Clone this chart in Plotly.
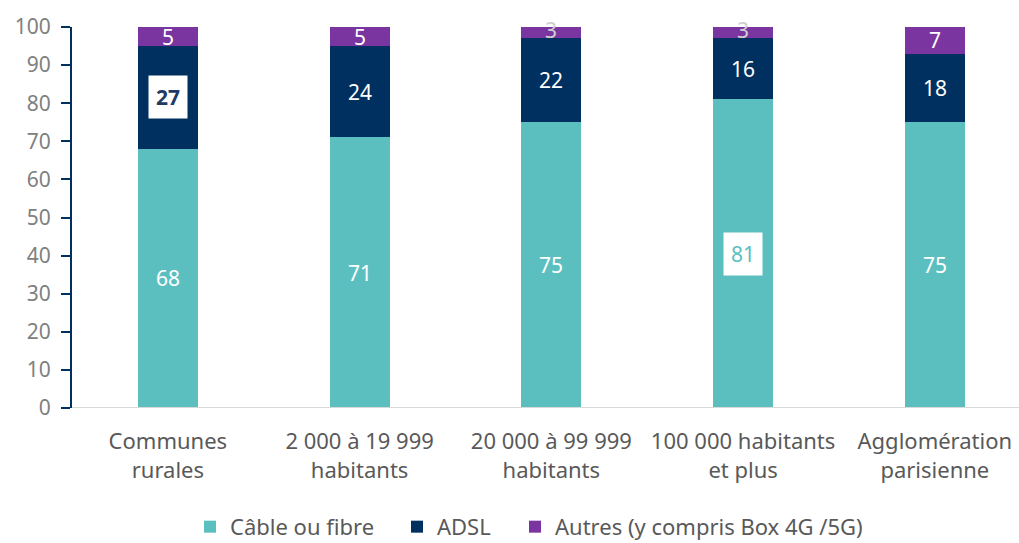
import plotly.graph_objects as go

categories = ["Communes<br>rurales", "2 000 à 19 999<br>habitants", "20 000 à 99 999<br>habitants",
              "100 000 habitants<br>et plus", "Agglomération<br>parisienne"]
cable = [68, 71, 75, 81, 75]
adsl = [27, 24, 22, 16, 18]
autres = [5, 5, 3, 3, 7]
series_names = ["Câble ou fibre", "ADSL", "Autres (y compris Box 4G /5G)"]
y_ticks = [0, 10, 20, 30, 40, 50, 60, 70, 80, 90, 100]

# highlighted labels (drawn in white boxes)
highlight = {("ADSL", 0): "#1f3a63", ("Câble ou fibre", 3): "#5bbfbf"}

TEAL = "#5cbfbf"
NAVY = "#00305f"
PURPLE = "#7a35a0"
FONT = "Noto Sans"
legend_widths = [162, 73, None]

fig = go.Figure()
cum = [0] * len(categories)
annots = []
for name, vals, col, lw in zip(series_names, [cable, adsl, autres], [TEAL, NAVY, PURPLE], legend_widths):
    kw = {}
    if lw:
        kw["legendwidth"] = lw
    fig.add_trace(go.Bar(
        name=name, x=list(range(len(categories))), y=vals, marker=dict(color=col, line=dict(width=0)),
        width=0.313, hoverinfo="y", **kw
    ))
    for i, v in enumerate(vals):
        mid = cum[i] + v / 2
        if (name, i) in highlight:
            annots.append(dict(x=i, y=mid, xref="x", yref="y",
                               text=("<b>%d</b>" % v) if name == "ADSL" else str(v),
                               showarrow=False, bgcolor="white", borderpad=7,
                               font=dict(family=FONT, size=21, color=highlight[(name, i)])))
        else:
            small = name.startswith("Autres") and v <= 3
            annots.append(dict(x=i, y=mid, xref="x", yref="y", text=str(v), showarrow=False,
                               yshift=3 if small else 0,
                               font=dict(family=FONT, size=21, color="#cfcfcf" if small else "white")))
        cum[i] += v

fig.update_layout(
    barmode="stack",
    width=1019, height=543,
    margin=dict(l=72, r=0, t=27, b=135, autoexpand=False),
    paper_bgcolor="white", plot_bgcolor="white",
    font=dict(family=FONT, color="#595959"),
    xaxis=dict(tickvals=list(range(len(categories))), ticktext=categories, range=[-0.5, 4.439],
               showgrid=False, zeroline=False, showline=False, ticks="",
               ticklabelstandoff=18,
               tickfont=dict(size=22, color="#595959")),
    yaxis=dict(range=[0, 100], tickvals=y_ticks, showgrid=False, zeroline=False,
               showline=True, linecolor=NAVY, linewidth=2, ticks="outside", ticklen=9,
               tickcolor=NAVY, tickwidth=2, ticklabelstandoff=6,
               tickfont=dict(size=21, color="#808080")),
    legend=dict(orientation="h", xref="container", yref="paper", x=190 / 1019, xanchor="left",
                y=-0.312, yanchor="middle", font=dict(size=22, color="#595959"),
                traceorder="normal", itemwidth=30),
    annotations=annots,
    showlegend=True,
)
fig.add_shape(type="line", xref="paper", yref="y", x0=0, x1=1, y0=0, y1=0,
              line=dict(color="#d9d9d9", width=2))
fig.write_html("out.html", post_script="document.body.style.margin='0';",
               config={"displayModeBar": False})
